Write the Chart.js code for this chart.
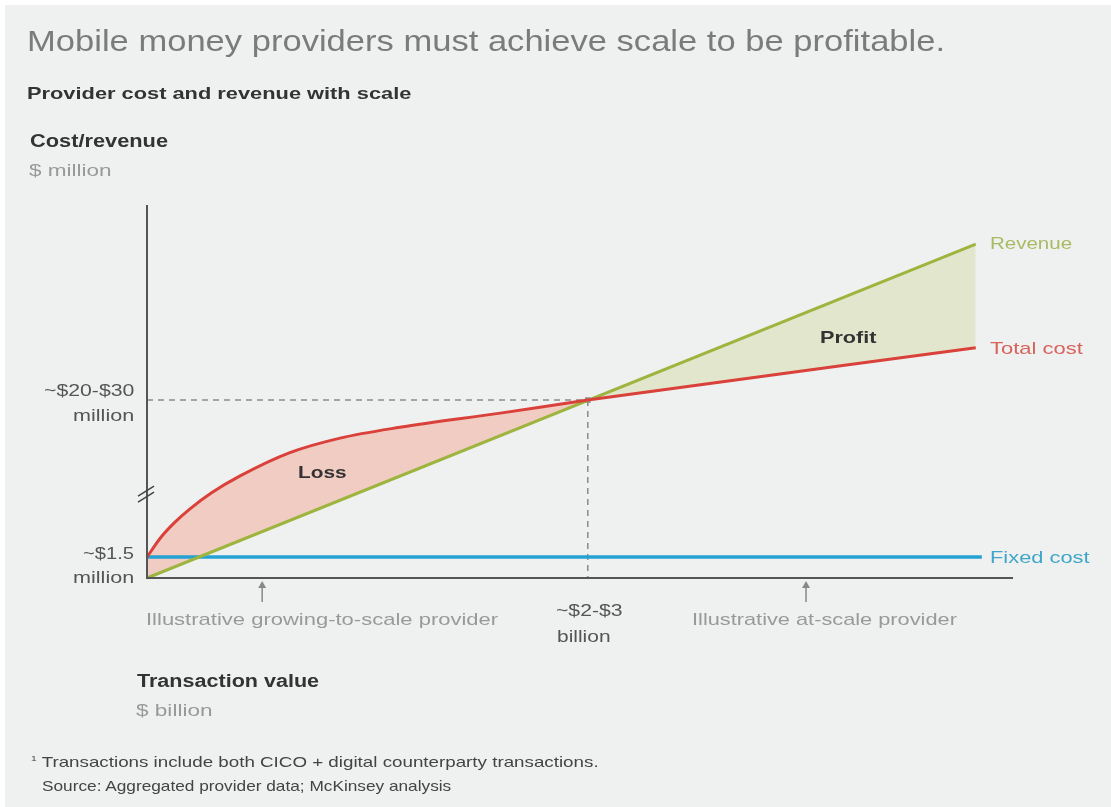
<!DOCTYPE html>
<html>
<head>
<meta charset="utf-8">
<script src="https://cdn.jsdelivr.net/npm/chart.js@4"></script>
<style>
  html, body { margin: 0; padding: 0; background: #fff; }
  body { width: 1111px; height: 807px; position: relative; overflow: hidden; font-family: "Liberation Sans", Arial, sans-serif; }
  #bg { position: absolute; left: 5px; top: 5px; right: 0; bottom: 0; background: #eff1f1; }
  #wrap { position: absolute; left: 0; top: 0; width: 1111px; height: 807px; }
  .t { position: absolute; white-space: nowrap; line-height: 1; transform-origin: 0 50%; }
  .b { font-weight: bold; color: #333; }
</style>
</head>
<body>
<div id="bg"></div>
<div id="wrap"><canvas id="chart" width="1111" height="807"></canvas></div>

<!-- data-x1 / data-x2 = left and right edge, data-cy = vertical centre -->
<div class="t" data-x1="27" data-x2="945" data-cy="41" style="font-size:30px;color:#7b7b7b;">Mobile money providers must achieve scale to be profitable.</div>
<div class="t b" data-x1="27" data-x2="412" data-cy="93" style="font-size:17px;">Provider cost and revenue with scale</div>
<div class="t b" data-x1="30" data-x2="168" data-cy="141" style="font-size:18px;">Cost/revenue</div>
<div class="t" data-x1="29" data-x2="112" data-cy="171" style="font-size:16px;color:#999;">$ million</div>

<div class="t" data-x1="44" data-x2="134" data-cy="390" style="font-size:17px;color:#555;">~$20-$30</div>
<div class="t" data-x1="73" data-x2="134" data-cy="415" style="font-size:17px;color:#555;">million</div>
<div class="t" data-x1="83" data-x2="134" data-cy="553" style="font-size:17px;color:#555;">~$1.5</div>
<div class="t" data-x1="73" data-x2="134" data-cy="577" style="font-size:17px;color:#555;">million</div>

<div class="t" data-x1="146" data-x2="498" data-cy="619" style="font-size:17px;color:#999;">Illustrative growing-to-scale provider</div>
<div class="t" data-x1="556" data-x2="622" data-cy="610" style="font-size:17px;color:#555;">~$2-$3</div>
<div class="t" data-x1="557" data-x2="610" data-cy="636" style="font-size:17px;color:#555;">billion</div>
<div class="t" data-x1="692" data-x2="957" data-cy="619" style="font-size:17px;color:#999;">Illustrative at-scale provider</div>

<div class="t b" data-x1="298" data-x2="347" data-cy="472" style="font-size:17px;">Loss</div>
<div class="t b" data-x1="820" data-x2="876" data-cy="337" style="font-size:17px;">Profit</div>
<div class="t" data-x1="990" data-x2="1072" data-cy="243" style="font-size:17px;color:#a9bb62;">Revenue</div>
<div class="t" data-x1="990" data-x2="1083" data-cy="348" style="font-size:17px;color:#d8625a;">Total cost</div>
<div class="t" data-x1="990" data-x2="1089" data-cy="557" style="font-size:17px;color:#3fa6c9;">Fixed cost</div>

<div class="t b" data-x1="137" data-x2="319" data-cy="681" style="font-size:18px;">Transaction value</div>
<div class="t" data-x1="136" data-x2="213" data-cy="710" style="font-size:17px;color:#999;">$ billion</div>

<div class="t" data-x1="31" data-x2="598" data-cy="762" style="font-size:14.5px;color:#444;"><sup style="font-size:8px;">1</sup> Transactions include both CICO + digital counterparty transactions.</div>
<div class="t" data-x1="42" data-x2="451" data-cy="786" style="font-size:14.5px;color:#444;">Source: Aggregated provider data; McKinsey analysis</div>

<script>
// illustrative values, x = transaction value, y = cost/revenue (axis is broken, so unitless)
const costX = [0, 1.5, 3.2, 5, 7.5, 10.7, 16.5, 22.3, 29.2, 40.8, 50.9, 95.7];
const costY = [5.6, 10.6, 14.9, 18.6, 22.9, 27.3, 33.6, 37.5, 40.4, 44.2, 47.7, 61.7];
const revenueX = [0, 95.7];
const revenueY = [0, 89.5];
const fixedX = [0, 96.4];
const fixedY = [5.6, 5.6];
const breakEven = { x: 50.9, y: 47.7 };
const providerMarks = [13.3, 76.1]; // growing-to-scale, at-scale

const pts = (xs, ys) => xs.map((x, i) => ({ x: x, y: ys[i] }));

// stretch each text to the width it has in the reference
function fitText() {
  document.querySelectorAll(".t").forEach(function (el) {
    const x1 = +el.dataset.x1, x2 = +el.dataset.x2, cy = +el.dataset.cy;
    el.style.transform = "none";
    const w = el.offsetWidth, h = el.offsetHeight;
    el.style.left = x1 + "px";
    el.style.top = (cy - h / 2) + "px";
    el.style.transform = "scaleX(" + ((x2 - x1) / w).toFixed(4) + ")";
  });
}

const overlay = {
  id: "overlay",
  afterDraw(chart) {
    const ctx = chart.ctx;
    const xs = chart.scales.x, ys = chart.scales.y;
    const a = chart.chartArea;
    ctx.save();
    // axes
    ctx.strokeStyle = "#555";
    ctx.lineWidth = 2;
    ctx.beginPath();
    ctx.moveTo(a.left, a.top);
    ctx.lineTo(a.left, a.bottom);
    ctx.lineTo(a.right, a.bottom);
    ctx.stroke();
    // axis break
    ctx.lineWidth = 1.5;
    ctx.strokeStyle = "#444";
    const by = ys.getPixelForValue(22.5);
    [-3, 3].forEach(function (d) {
      ctx.beginPath();
      ctx.moveTo(a.left - 9, by + d + 5);
      ctx.lineTo(a.left + 7, by + d - 5);
      ctx.stroke();
    });
    // arrows under the axis
    ctx.strokeStyle = "#888";
    ctx.fillStyle = "#888";
    ctx.lineWidth = 1.5;
    providerMarks.forEach(function (v) {
      const px = xs.getPixelForValue(v);
      ctx.beginPath();
      ctx.moveTo(px, a.bottom + 24);
      ctx.lineTo(px, a.bottom + 6);
      ctx.stroke();
      ctx.beginPath();
      ctx.moveTo(px, a.bottom + 3);
      ctx.lineTo(px - 4, a.bottom + 10);
      ctx.lineTo(px + 4, a.bottom + 10);
      ctx.closePath();
      ctx.fill();
    });
    ctx.restore();
  }
};

new Chart(document.getElementById("chart"), {
  type: "line",
  data: {
    datasets: [
      {
        label: "Total cost",
        data: pts(costX, costY),
        borderColor: "#d9413a",
        borderWidth: 3,
        cubicInterpolationMode: "monotone",
        fill: { target: 1, above: "rgba(245,160,140,0.45)", below: "rgba(205,215,150,0.4)" }
      },
      {
        label: "Revenue",
        data: pts(revenueX, revenueY),
        borderColor: "#9db53f",
        borderWidth: 3,
        fill: false
      },
      {
        label: "Fixed cost",
        data: pts(fixedX, fixedY),
        borderColor: "#23a2d3",
        borderWidth: 3.5,
        fill: false
      },
      {
        label: "guide-h",
        data: [{ x: 0, y: breakEven.y }, { x: breakEven.x, y: breakEven.y }],
        borderColor: "#8a8a8a",
        borderWidth: 1.5,
        borderDash: [6, 5],
        fill: false,
        order: 1
      },
      {
        label: "guide-v",
        data: [{ x: breakEven.x, y: breakEven.y }, { x: breakEven.x, y: 0 }],
        borderColor: "#8a8a8a",
        borderWidth: 1.5,
        borderDash: [6, 5],
        fill: false,
        order: 1
      },
      {
        label: "break-even",
        data: [breakEven],
        showLine: false,
        pointStyle: "rect",
        pointRadius: 4,
        pointBackgroundColor: "#8f8f96",
        pointBorderWidth: 0
      }
    ]
  },
  options: {
    responsive: false,
    animation: false,
    events: [],
    clip: false,
    layout: { padding: { left: 147, top: 205, right: 98, bottom: 229 } },
    elements: { point: { radius: 0 }, line: { tension: 0 } },
    scales: {
      x: { type: "linear", min: 0, max: 100, display: false },
      y: { type: "linear", min: 0, max: 100, display: false }
    },
    plugins: {
      legend: { display: false },
      tooltip: { enabled: false },
      filler: { drawTime: "beforeDatasetsDraw" }
    }
  },
  plugins: [overlay]
});

fitText();
</script>
</body>
</html>
